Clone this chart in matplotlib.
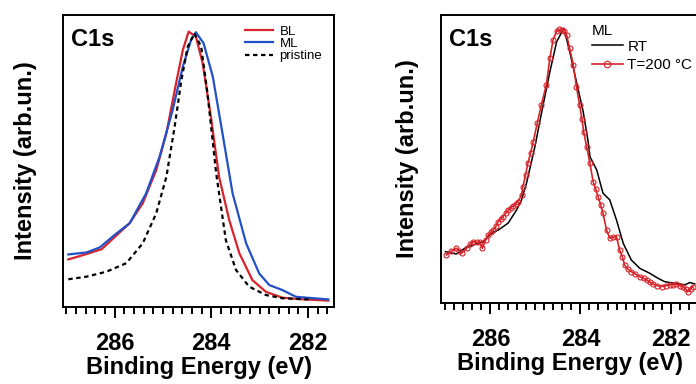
import matplotlib
matplotlib.use("Agg")
import numpy as np
from matplotlib import pyplot as plt
from matplotlib.ticker import MultipleLocator

plt.rcParams['font.family'] = ['Liberation Sans', 'DejaVu Sans']

# left panel: C1s, BL / ML / pristine
bl_e = [286.96, 286.65, 286.27, 286.03, 285.69, 285.42, 285.14, 284.93, 284.73, 284.59,
        284.47, 284.32, 284.18, 284.01, 283.84, 283.63, 283.42, 283.15, 282.87, 282.53,
        282.19, 281.58]
bl_i = [0.163, 0.178, 0.198, 0.235, 0.287, 0.355, 0.469, 0.595, 0.766, 0.880,
        0.943, 0.926, 0.835, 0.652, 0.446, 0.298, 0.184, 0.092, 0.052, 0.032,
        0.027, 0.022]

ml_e = [286.96, 286.58, 286.31, 286.00, 285.69, 285.35, 285.07, 284.80, 284.59, 284.42,
        284.32, 284.16, 283.97, 283.77, 283.56, 283.28, 283.01, 282.80, 282.53, 282.25,
        281.58]
ml_i = [0.180, 0.187, 0.204, 0.247, 0.287, 0.389, 0.515, 0.675, 0.823, 0.914,
        0.941, 0.903, 0.789, 0.595, 0.389, 0.218, 0.115, 0.075, 0.058, 0.035,
        0.026]

pr_e = [286.96, 286.58, 286.17, 285.76, 285.42, 285.14, 284.93, 284.76, 284.62, 284.49,
        284.35, 284.21, 284.08, 283.90, 283.70, 283.49, 283.22, 282.87, 282.53, 281.98]
pr_i = [0.095, 0.104, 0.121, 0.150, 0.218, 0.321, 0.446, 0.617, 0.777, 0.891,
        0.937, 0.891, 0.732, 0.458, 0.229, 0.127, 0.070, 0.041, 0.030, 0.026]

# right panel: ML, RT vs T=200 C
rt_e = [287.00, 286.76, 286.57, 286.39, 286.16, 285.98, 285.83, 285.61, 285.42, 285.31,
        285.20, 285.02, 284.83, 284.68, 284.53, 284.37, 284.24, 284.09, 283.94, 283.83,
        283.79, 283.64, 283.50, 283.35, 283.20, 283.05, 282.87, 282.68, 282.46, 282.28,
        282.13, 282.02, 281.87, 281.68, 281.57, 281.46]
rt_i = [0.178, 0.170, 0.190, 0.201, 0.213, 0.242, 0.253, 0.277, 0.323, 0.358,
        0.416, 0.538, 0.688, 0.803, 0.907, 0.954, 0.873, 0.768, 0.664, 0.560,
        0.508, 0.462, 0.381, 0.358, 0.288, 0.207, 0.149, 0.120, 0.103, 0.086,
        0.074, 0.071, 0.068, 0.063, 0.071, 0.066]

t200_e = [286.98, 286.87, 286.76, 286.70, 286.64, 286.53, 286.45, 286.39, 286.31, 286.24,
          286.18, 286.11, 286.05, 285.99, 285.94, 285.88, 285.83, 285.77, 285.72, 285.66,
          285.61, 285.55, 285.50, 285.44, 285.39, 285.31, 285.28, 285.22, 285.17, 285.11,
          285.05, 284.96, 284.87, 284.76, 284.68, 284.61, 284.53, 284.47, 284.42, 284.36,
          284.31, 284.24, 284.16, 284.09, 284.02, 283.97, 283.93, 283.86, 283.79, 283.72,
          283.66, 283.61, 283.55, 283.50, 283.42, 283.35, 283.28, 283.20, 283.13, 283.07,
          283.02, 282.95, 282.87, 282.78, 282.68, 282.60, 282.53, 282.46, 282.39, 282.30,
          282.20, 282.11, 282.02, 281.95, 281.87, 281.80, 281.72, 281.66, 281.61, 281.55,
          281.50]
t200_i = [0.167, 0.180, 0.190, 0.182, 0.173, 0.190, 0.205, 0.213, 0.210, 0.213,
          0.190, 0.218, 0.236, 0.245, 0.253, 0.266, 0.282, 0.292, 0.300, 0.312,
          0.323, 0.330, 0.337, 0.345, 0.352, 0.375, 0.404, 0.445, 0.485, 0.520,
          0.560, 0.625, 0.688, 0.757, 0.850, 0.913, 0.944, 0.950, 0.948, 0.945,
          0.931, 0.884, 0.826, 0.751, 0.688, 0.640, 0.595, 0.540, 0.485, 0.421,
          0.395, 0.369, 0.340, 0.311, 0.253, 0.225, 0.228, 0.230, 0.184, 0.160,
          0.132, 0.118, 0.109, 0.100, 0.091, 0.086, 0.080, 0.072, 0.066, 0.060,
          0.057, 0.060, 0.063, 0.064, 0.066, 0.060, 0.057, 0.048, 0.039, 0.050,
          0.057]

RED = '#d8232a'
BLUE = '#2250c8'


def style_axis(ax, xlim, ylabelpad):
    ax.set_xlim(*xlim)
    ax.set_ylim(0, 1)
    ax.set_yticks([])
    ax.xaxis.set_major_locator(MultipleLocator(2))
    ax.xaxis.set_minor_locator(MultipleLocator(0.2))
    ax.tick_params(axis='x', which='major', direction='out', length=8, width=1.4,
                   labelsize=17, pad=10)
    ax.tick_params(axis='x', which='minor', direction='out', length=5, width=1.4)
    for lab in ax.get_xticklabels():
        lab.set_fontweight('bold')
    for sp in ax.spines.values():
        sp.set_linewidth(1.4)
    ax.set_xlabel('Binding Energy (eV)', fontsize=17, fontweight='bold', labelpad=1)
    ax.set_ylabel('Intensity (arb.un.)', fontsize=17, fontweight='bold', labelpad=ylabelpad)
    ax.text(0.03, 0.955, 'C1s', transform=ax.transAxes, fontsize=17, fontweight='bold',
            va='top', ha='left')


def main():
    fig = plt.figure(figsize=(6.96, 3.84), dpi=100)

    ax1 = fig.add_axes([0.0905, 0.2005, 0.3895, 0.7605])
    ax1.plot(bl_e, bl_i, color=RED, lw=1.6, label='BL')
    ax1.plot(ml_e, ml_i, color=BLUE, lw=1.6, label='ML')
    ax1.plot(pr_e, pr_i, color='black', lw=1.6, ls=(0, (2, 1.6)), label='pristine')
    style_axis(ax1, (287.07, 281.46), 19)
    ax1.legend(loc='upper right', bbox_to_anchor=(0.995, 1.0), frameon=False, fontsize=9.5,
               handlelength=2.1, handletextpad=0.5, labelspacing=0.0, borderpad=0.3)

    ax2 = fig.add_axes([0.6336, 0.211, 0.3718, 0.750])
    ax2.plot(rt_e, rt_i, color='black', lw=1.1, label='RT')
    ax2.plot(t200_e, t200_i, color=RED, lw=1.2, marker='o', ms=3.6, mfc='none',
             mec=RED, mew=0.8, label='T=200 °C')
    style_axis(ax2, (287.1, 281.35), 16)
    ax2.spines['right'].set_visible(False)
    leg = ax2.legend(loc='upper left', bbox_to_anchor=(0.543, 1.005), frameon=False,
                     fontsize=11, title='ML', title_fontsize=11, alignment='left',
                     handlelength=2.0, handletextpad=0.3, labelspacing=0.3,
                     borderpad=0.2, markerscale=1.3)
    leg._legend_box.sep = 1

    fig.savefig('out.png', dpi=100)


if __name__ == "__main__":
    main()
